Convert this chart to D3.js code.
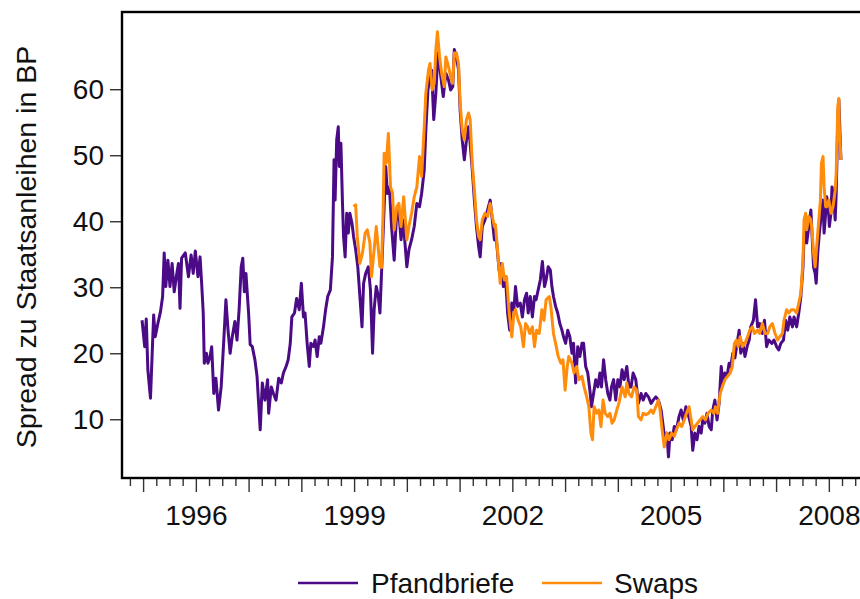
<!DOCTYPE html>
<html>
<head>
<meta charset="utf-8">
<script src="https://cdnjs.cloudflare.com/ajax/libs/d3/7.8.5/d3.min.js"></script>
<style>
  body { margin: 0; background: #fff; }
  svg { display: block; }
  text { font-family: "Liberation Sans", Arial, sans-serif; fill: #111; }
</style>
</head>
<body>
<div id="chart"></div>
<script>
// Spread of Pfandbriefe and swaps over government bonds, basis points
var yTicks = [10, 20, 30, 40, 50, 60];
var yearLabels = [1996, 1999, 2002, 2005, 2008];
var seriesNames = ['Pfandbriefe', 'Swaps'];
var seriesColors = ['#4b0a86', '#ff8c0a'];

// [decimal year, spread in BP]
var pfandbriefe = [
  [1994.98, 25.0], [1995.03, 21.0], [1995.06, 25.2], [1995.09, 17.5], [1995.14, 13.2], [1995.17, 19.5],
  [1995.20, 25.8], [1995.23, 22.5], [1995.28, 24.5], [1995.33, 26.3], [1995.37, 28.6], [1995.40, 35.2],
  [1995.43, 30.1], [1995.47, 34.1], [1995.51, 30.1], [1995.55, 33.6], [1995.59, 29.3], [1995.63, 31.6],
  [1995.67, 33.6], [1995.70, 26.8], [1995.73, 34.4], [1995.80, 35.2], [1995.86, 31.6], [1995.91, 34.9],
  [1995.95, 32.1], [1995.99, 35.5], [1996.04, 31.6], [1996.08, 34.6], [1996.11, 30.6], [1996.14, 26.1],
  [1996.16, 18.5], [1996.20, 20.0], [1996.23, 18.5], [1996.27, 19.5], [1996.30, 21.0], [1996.34, 13.9],
  [1996.38, 16.2], [1996.43, 11.4], [1996.48, 14.9], [1996.53, 22.0], [1996.57, 28.1], [1996.61, 23.5],
  [1996.65, 20.0], [1996.69, 22.5], [1996.74, 24.8], [1996.78, 22.0], [1996.82, 26.6], [1996.86, 33.1],
  [1996.89, 34.4], [1996.92, 29.3], [1996.95, 32.1], [1997.00, 26.1], [1997.03, 21.3], [1997.07, 21.0],
  [1997.12, 19.0], [1997.16, 16.5], [1997.19, 12.4], [1997.22, 8.4], [1997.26, 15.5], [1997.31, 12.9],
  [1997.36, 16.0], [1997.38, 10.9], [1997.43, 14.9], [1997.47, 13.9], [1997.52, 12.9], [1997.57, 16.2],
  [1997.62, 15.5], [1997.66, 17.0], [1997.71, 18.0], [1997.75, 19.0], [1997.79, 21.5], [1997.82, 25.5],
  [1997.87, 26.1], [1997.91, 28.3], [1997.96, 26.6], [1998.00, 30.6], [1998.04, 25.5], [1998.07, 26.1],
  [1998.11, 21.5], [1998.15, 18.0], [1998.18, 21.5], [1998.23, 21.0], [1998.26, 22.0], [1998.30, 19.5],
  [1998.34, 22.5], [1998.37, 21.5], [1998.42, 24.0], [1998.46, 26.6], [1998.50, 28.6], [1998.55, 29.6],
  [1998.59, 34.6], [1998.62, 49.3], [1998.64, 43.2], [1998.67, 52.3], [1998.70, 54.3], [1998.72, 48.3],
  [1998.75, 51.8], [1998.78, 42.7], [1998.80, 37.7], [1998.83, 34.6], [1998.86, 41.2], [1998.89, 38.2],
  [1998.92, 41.2], [1998.96, 39.7], [1998.99, 37.7], [1999.03, 35.7], [1999.07, 33.1], [1999.11, 28.6],
  [1999.15, 24.0], [1999.18, 30.6], [1999.22, 32.1], [1999.27, 33.1], [1999.31, 29.6], [1999.35, 20.0],
  [1999.38, 26.6], [1999.42, 30.1], [1999.46, 28.6], [1999.49, 26.1], [1999.52, 32.1], [1999.56, 40.2],
  [1999.60, 48.3], [1999.63, 44.2], [1999.67, 45.2], [1999.71, 39.2], [1999.76, 34.1], [1999.80, 40.2],
  [1999.84, 42.2], [1999.89, 37.2], [1999.93, 40.2], [2000.00, 33.1], [2000.04, 35.7], [2000.09, 37.2],
  [2000.14, 39.2], [2000.19, 42.7], [2000.24, 42.2], [2000.28, 44.2], [2000.33, 47.8], [2000.36, 53.8],
  [2000.40, 59.9], [2000.44, 61.9], [2000.47, 62.9], [2000.51, 55.4], [2000.55, 59.4], [2000.59, 65.5],
  [2000.63, 62.9], [2000.69, 58.9], [2000.74, 62.4], [2000.79, 61.4], [2000.83, 59.9], [2000.87, 60.4],
  [2000.90, 66.0], [2000.94, 64.9], [2000.98, 62.9], [2001.01, 56.9], [2001.05, 52.3], [2001.09, 49.3],
  [2001.13, 52.3], [2001.17, 54.3], [2001.20, 51.8], [2001.24, 47.8], [2001.28, 43.2], [2001.32, 39.2],
  [2001.36, 36.2], [2001.39, 34.6], [2001.43, 39.2], [2001.48, 40.2], [2001.53, 41.7], [2001.58, 43.2],
  [2001.62, 40.2], [2001.66, 37.2], [2001.70, 37.0], [2001.75, 32.5], [2001.79, 33.6], [2001.83, 30.1],
  [2001.87, 31.6], [2001.91, 26.1], [2001.95, 23.5], [2001.99, 27.6], [2002.03, 26.6], [2002.06, 30.1],
  [2002.10, 27.1], [2002.15, 27.6], [2002.19, 25.5], [2002.23, 28.1], [2002.27, 29.1], [2002.30, 26.1],
  [2002.34, 28.6], [2002.38, 25.5], [2002.42, 28.6], [2002.45, 28.1], [2002.49, 29.6], [2002.53, 31.1],
  [2002.57, 33.9], [2002.61, 30.1], [2002.64, 31.1], [2002.68, 33.1], [2002.72, 32.6], [2002.75, 30.1],
  [2002.78, 28.6], [2002.82, 27.1], [2002.86, 26.1], [2002.90, 24.5], [2002.94, 23.5], [2002.97, 22.5],
  [2003.01, 21.5], [2003.05, 23.5], [2003.09, 22.5], [2003.13, 20.0], [2003.16, 21.5], [2003.20, 15.5],
  [2003.24, 21.0], [2003.28, 19.5], [2003.32, 21.5], [2003.35, 21.5], [2003.39, 18.0], [2003.43, 17.0],
  [2003.47, 14.4], [2003.50, 11.9], [2003.54, 13.9], [2003.58, 16.0], [2003.62, 14.9], [2003.66, 17.0],
  [2003.69, 14.9], [2003.73, 19.0], [2003.77, 16.0], [2003.81, 13.9], [2003.85, 12.9], [2003.88, 14.9],
  [2003.92, 16.0], [2003.96, 12.9], [2004.00, 16.0], [2004.04, 14.9], [2004.08, 17.5], [2004.12, 16.0],
  [2004.17, 18.0], [2004.21, 14.9], [2004.25, 14.9], [2004.29, 17.0], [2004.34, 16.0], [2004.39, 12.4],
  [2004.44, 13.9], [2004.48, 12.9], [2004.53, 13.9], [2004.58, 13.4], [2004.63, 12.4], [2004.67, 12.9],
  [2004.72, 13.4], [2004.77, 12.9], [2004.82, 11.4], [2004.86, 8.9], [2004.89, 6.9], [2004.93, 7.9],
  [2004.96, 4.3], [2004.99, 7.9], [2005.03, 6.9], [2005.07, 8.9], [2005.11, 8.4], [2005.16, 10.4],
  [2005.20, 11.4], [2005.24, 9.9], [2005.29, 11.9], [2005.33, 10.9], [2005.39, 8.9], [2005.42, 5.3],
  [2005.46, 7.9], [2005.50, 6.9], [2005.54, 8.9], [2005.58, 7.9], [2005.61, 9.9], [2005.65, 9.4],
  [2005.69, 10.9], [2005.73, 8.9], [2005.77, 8.4], [2005.80, 11.4], [2005.84, 12.9], [2005.88, 9.9],
  [2005.92, 12.4], [2005.96, 18.0], [2005.99, 15.5], [2006.03, 17.0], [2006.07, 16.5], [2006.11, 18.5],
  [2006.14, 18.0], [2006.18, 20.0], [2006.22, 19.3], [2006.26, 21.5], [2006.30, 23.5], [2006.33, 20.0],
  [2006.37, 21.5], [2006.41, 19.5], [2006.45, 21.0], [2006.49, 22.0], [2006.52, 24.0], [2006.57, 25.0],
  [2006.61, 28.1], [2006.65, 24.0], [2006.69, 24.5], [2006.74, 23.0], [2006.78, 25.0], [2006.82, 21.0],
  [2006.86, 22.0], [2006.92, 21.5], [2006.96, 22.0], [2007.01, 21.0], [2007.05, 20.5], [2007.09, 21.5],
  [2007.14, 22.0], [2007.18, 25.0], [2007.22, 23.5], [2007.26, 25.5], [2007.31, 24.0], [2007.34, 25.5],
  [2007.39, 24.0], [2007.43, 26.1], [2007.47, 28.6], [2007.51, 33.1], [2007.53, 37.7], [2007.56, 39.7],
  [2007.58, 36.7], [2007.62, 39.2], [2007.66, 41.7], [2007.68, 38.2], [2007.71, 33.1], [2007.74, 32.1],
  [2007.76, 30.6], [2007.79, 35.2], [2007.82, 38.2], [2007.86, 41.2], [2007.89, 43.2], [2007.91, 38.2],
  [2007.94, 41.2], [2007.96, 43.7], [2007.99, 42.2], [2008.01, 39.2], [2008.04, 41.2], [2008.06, 45.2],
  [2008.09, 44.2], [2008.12, 40.2], [2008.14, 44.2], [2008.17, 55.4], [2008.19, 58.4], [2008.22, 51.3],
  [2008.23, 49.3]
];

var swaps = [
  [1998.99, 42.2], [1999.03, 42.5], [1999.06, 37.7], [1999.11, 33.6], [1999.16, 35.2], [1999.21, 38.2],
  [1999.25, 38.7], [1999.30, 36.7], [1999.33, 31.6], [1999.38, 35.7], [1999.42, 39.2], [1999.46, 35.7],
  [1999.49, 33.1], [1999.52, 33.0], [1999.55, 41.2], [1999.57, 50.3], [1999.61, 48.8], [1999.65, 53.3],
  [1999.69, 45.2], [1999.73, 44.2], [1999.76, 38.7], [1999.81, 42.2], [1999.85, 42.7], [1999.89, 39.2],
  [1999.94, 43.7], [2000.00, 37.2], [2000.04, 39.2], [2000.09, 41.2], [2000.14, 43.7], [2000.19, 45.2],
  [2000.24, 49.8], [2000.28, 46.8], [2000.33, 54.3], [2000.36, 59.4], [2000.41, 62.9], [2000.44, 63.9],
  [2000.48, 59.9], [2000.52, 60.9], [2000.55, 66.0], [2000.58, 68.7], [2000.62, 64.9], [2000.66, 62.4],
  [2000.71, 60.4], [2000.74, 64.9], [2000.79, 63.4], [2000.83, 61.9], [2000.87, 60.9], [2000.90, 65.5],
  [2000.94, 65.5], [2000.98, 63.9], [2001.01, 57.9], [2001.05, 53.8], [2001.09, 52.3], [2001.13, 55.4],
  [2001.17, 56.4], [2001.20, 55.4], [2001.24, 48.8], [2001.28, 44.7], [2001.32, 40.2], [2001.36, 37.7],
  [2001.39, 37.2], [2001.43, 40.2], [2001.48, 41.2], [2001.53, 40.7], [2001.58, 42.7], [2001.62, 40.7],
  [2001.66, 39.2], [2001.68, 39.5], [2001.71, 36.5], [2001.77, 30.6], [2001.81, 33.6], [2001.85, 31.1],
  [2001.89, 31.6], [2001.94, 26.1], [2001.99, 22.5], [2002.03, 26.1], [2002.06, 26.6], [2002.11, 25.0],
  [2002.16, 24.0], [2002.21, 21.0], [2002.25, 24.5], [2002.29, 24.0], [2002.33, 23.0], [2002.38, 24.0],
  [2002.42, 21.0], [2002.46, 23.5], [2002.51, 23.0], [2002.56, 26.6], [2002.60, 25.0], [2002.64, 28.1],
  [2002.70, 28.6], [2002.73, 27.1], [2002.78, 23.0], [2002.82, 21.5], [2002.87, 19.5], [2002.92, 18.5],
  [2002.96, 19.0], [2003.00, 14.4], [2003.04, 18.0], [2003.07, 19.5], [2003.13, 18.5], [2003.17, 17.0],
  [2003.22, 18.0], [2003.26, 16.0], [2003.32, 16.5], [2003.36, 14.9], [2003.41, 13.4], [2003.45, 11.9],
  [2003.49, 7.9], [2003.52, 6.9], [2003.55, 11.9], [2003.60, 10.9], [2003.64, 11.4], [2003.68, 8.9],
  [2003.72, 12.9], [2003.76, 10.9], [2003.81, 10.4], [2003.85, 10.9], [2003.89, 9.4], [2003.93, 9.9],
  [2003.98, 11.4], [2004.02, 12.4], [2004.08, 14.9], [2004.14, 13.4], [2004.17, 15.5], [2004.21, 13.9],
  [2004.26, 13.4], [2004.31, 14.9], [2004.36, 14.4], [2004.39, 10.4], [2004.44, 9.9], [2004.48, 10.9],
  [2004.53, 10.7], [2004.58, 10.9], [2004.63, 11.4], [2004.67, 10.9], [2004.72, 11.9], [2004.77, 12.9],
  [2004.80, 11.4], [2004.84, 8.4], [2004.88, 5.8], [2004.93, 7.9], [2004.97, 6.9], [2005.02, 7.9],
  [2005.07, 7.4], [2005.11, 8.4], [2005.16, 9.4], [2005.21, 8.9], [2005.26, 9.9], [2005.30, 10.9],
  [2005.35, 11.9], [2005.39, 9.9], [2005.42, 8.4], [2005.46, 8.9], [2005.51, 9.4], [2005.56, 9.9],
  [2005.61, 10.4], [2005.66, 9.9], [2005.71, 10.9], [2005.77, 11.4], [2005.82, 10.9], [2005.85, 11.9],
  [2005.89, 10.9], [2005.94, 13.9], [2005.98, 14.9], [2006.03, 16.0], [2006.08, 16.5], [2006.13, 17.0],
  [2006.17, 18.0], [2006.21, 21.5], [2006.25, 22.0], [2006.28, 21.0], [2006.32, 22.5], [2006.36, 21.0],
  [2006.41, 21.5], [2006.46, 22.5], [2006.50, 23.5], [2006.55, 24.0], [2006.59, 23.0], [2006.65, 23.5],
  [2006.69, 23.0], [2006.74, 24.5], [2006.79, 23.0], [2006.84, 23.0], [2006.88, 24.0], [2006.93, 24.5],
  [2006.98, 23.0], [2007.03, 22.0], [2007.07, 22.5], [2007.12, 23.0], [2007.15, 25.0], [2007.20, 26.6],
  [2007.24, 26.1], [2007.29, 26.6], [2007.34, 26.6], [2007.39, 26.1], [2007.43, 27.6], [2007.47, 29.1],
  [2007.51, 34.1], [2007.53, 40.2], [2007.56, 41.2], [2007.58, 38.7], [2007.62, 40.7], [2007.66, 40.2],
  [2007.68, 38.7], [2007.71, 35.2], [2007.74, 33.1], [2007.76, 35.2], [2007.80, 39.2], [2007.84, 43.2],
  [2007.86, 48.8], [2007.89, 49.8], [2007.91, 45.2], [2007.94, 42.2], [2007.96, 42.2], [2008.00, 43.2],
  [2008.04, 41.2], [2008.08, 42.2], [2008.12, 44.7], [2008.14, 47.3], [2008.17, 57.4], [2008.19, 58.6],
  [2008.20, 53.8], [2008.23, 49.3]
];

var W = 860, H = 599;
var plot = { left: 122, top: 12, right: 880, bottom: 478 };

var svg = d3.select('#chart').append('svg')
  .attr('width', W)
  .attr('height', H);

var x = d3.scaleLinear()
  .domain([1994.6, 2008.97])
  .range([plot.left, plot.right]);

var y = d3.scaleLinear()
  .domain([1.1, 71.7])
  .range([plot.bottom, plot.top]);

// quarter ticks (minor) and yearly ticks (major)
var years = d3.range(1995, 2009);
var quarters = [];
years.forEach(function(yr) { [0.25, 0.5, 0.75].forEach(function(q) { quarters.push(yr + q); }); });
quarters.unshift(1994.75);

var minorAxis = svg.append('g')
  .attr('transform', 'translate(0,' + plot.bottom + ')')
  .call(d3.axisBottom(x).tickValues(quarters).tickSize(8).tickFormat(''));

var majorAxis = svg.append('g')
  .attr('transform', 'translate(0,' + plot.bottom + ')')
  .call(d3.axisBottom(x).tickValues(years).tickSize(14).tickPadding(13)
    .tickFormat(function(d) { return yearLabels.indexOf(d) >= 0 ? String(d) : ''; }));

var yAxis = svg.append('g')
  .attr('transform', 'translate(' + plot.left + ',0)')
  .call(d3.axisLeft(y).tickValues(yTicks).tickSize(12).tickPadding(6));

[minorAxis, majorAxis, yAxis].forEach(function(g) {
  g.select('.domain').remove();
  g.selectAll('.tick line').attr('stroke', '#333').attr('stroke-width', 1.4);
  g.selectAll('.tick text')
    .style('font-family', '"Liberation Sans", Arial, sans-serif')
    .style('font-size', '28px')
    .attr('fill', '#111');
});

// series lines
var line = d3.line()
  .x(function(d) { return x(d[0]); })
  .y(function(d) { return y(d[1]); });

[pfandbriefe, swaps].forEach(function(series, i) {
  svg.append('path')
    .datum(series)
    .attr('d', line)
    .attr('fill', 'none')
    .attr('stroke', seriesColors[i])
    .attr('stroke-width', 3)
    .attr('stroke-linejoin', 'round');
});

// frame
svg.append('rect')
  .attr('x', plot.left)
  .attr('y', plot.top)
  .attr('width', plot.right - plot.left)
  .attr('height', plot.bottom - plot.top)
  .attr('fill', 'none')
  .attr('stroke', '#000')
  .attr('stroke-width', 2.4);

// y axis title
svg.append('text')
  .attr('transform', 'translate(36,' + ((plot.top + plot.bottom) / 2 + 2) + ') rotate(-90)')
  .attr('text-anchor', 'middle')
  .style('font-size', '28.5px')
  .text('Spread zu Staatsanleihen in BP');

// legend
var legendItems = [
  { x1: 298, x2: 358, tx: 371 },
  { x1: 542, x2: 602, tx: 614 }
];
var legend = svg.append('g').attr('class', 'legend');
legendItems.forEach(function(it, i) {
  legend.append('line')
    .attr('x1', it.x1).attr('x2', it.x2)
    .attr('y1', 583).attr('y2', 583)
    .attr('stroke', seriesColors[i])
    .attr('stroke-width', 2.4);
  legend.append('text')
    .attr('x', it.tx)
    .attr('y', 593)
    .style('font-size', '28px')
    .text(seriesNames[i]);
});
</script>
</body>
</html>
